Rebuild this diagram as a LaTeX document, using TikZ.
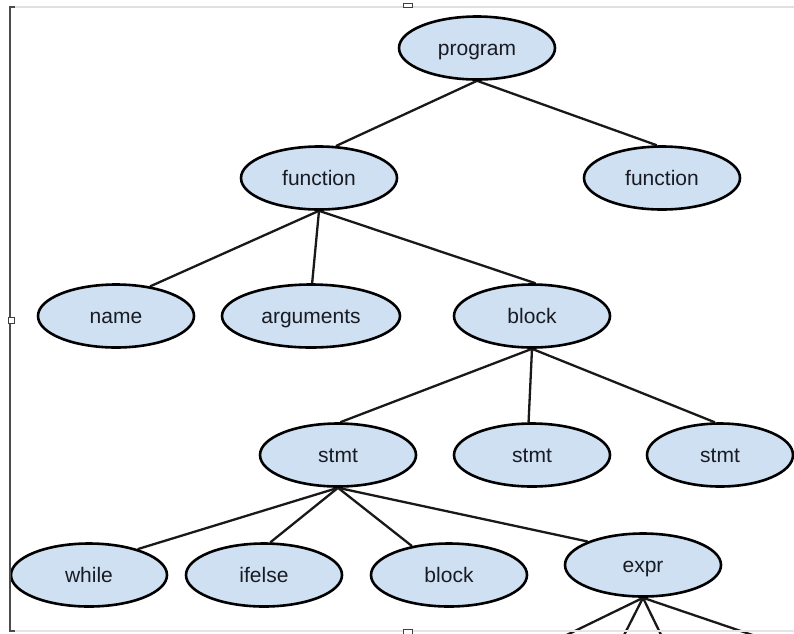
\documentclass[tikz,border=0pt]{standalone}
\usepackage{fontspec}
\setmainfont{Liberation Sans}
\usetikzlibrary{shapes.geometric,backgrounds}
\definecolor{nodefill}{RGB}{207,224,242}
\definecolor{txt}{RGB}{25,27,36}
\begin{document}
\begin{tikzpicture}[x=1pt,y=-1pt,
  tn/.style={ellipse, draw=black, line width=2.6pt, fill=nodefill,
    minimum width=156pt, minimum height=63pt, inner sep=0pt,
    text height=16pt, text depth=2pt,
    font=\fontsize{21}{24}\selectfont, text=txt},
  edge/.style={line width=2.3pt, draw=black!90},
  frameline/.style={draw=black!70, line width=1.3pt},
  handle/.style={draw=black!75, fill=white, line width=1pt}]
\useasboundingbox (0,0) rectangle (794,633);
\clip (0,0) rectangle (794,633);

% nodes
\node[tn] (program) at (477,48) {program};
\node[tn] (f1) at (319,178) {function};
\node[tn] (f2) at (662,178) {function};
\node[tn] (name) at (116,316) {name};
\node[tn, minimum width=178pt] (args) at (311,316) {arguments};
\node[tn] (blk1) at (532,316) {block};
\node[tn] (s1) at (338,455) {stmt};
\node[tn] (s2) at (532,455) {stmt};
\node[tn, minimum width=146pt] (s3) at (720,455) {stmt};
\node[tn] (while) at (89,575) {while};
\node[tn] (ifelse) at (264,575) {ifelse};
\node[tn] (blk2) at (449,575) {block};
\node[tn] (expr) at (643,565) {expr};

\coordinate (e1) at (546,645);
\coordinate (e2) at (619,645);
\coordinate (e3) at (666,645);
\coordinate (e4) at (782,645);

\begin{scope}[on background layer]
  \fill[white] (0,0) rectangle (794,633);
  \draw[edge] (program.south) -- (f1.62);
  \draw[edge] (program.south) -- (f2.99);
  \draw[edge] (f1.south) -- (name.41);
  \draw[edge] (f1.south) -- (args.88);
  \draw[edge] (f1.south) -- (blk1.84);
  \draw[edge] (blk1.south) -- (s1.86);
  \draw[edge] (blk1.south) -- (s2.96);
  \draw[edge] (blk1.south) -- (s3.99);
  \draw[edge] (s1.south) -- (while.28);
  \draw[edge] (s1.south) -- (ifelse.79);
  \draw[edge] (s1.south) -- (blk2.142);
  \draw[edge] (s1.south) -- (expr.157);
  \draw[edge] (expr.south) -- (e1);
  \draw[edge] (expr.south) -- (e2);
  \draw[edge] (expr.south) -- (e3);
  \draw[edge] (expr.south) -- (e4);
\end{scope}

% selection frame artifacts
\draw[black!12, line width=1.6pt] (12,7) -- (794,7);
\draw[black!10, line width=1.2pt] (12,631) -- (794,631);
\draw[frameline] (10,7) -- (10,631);
\draw[frameline] (9.4,7) -- (15,7);
\draw[frameline] (9.4,631) -- (15,631);
\draw[handle] (403,3) rectangle (412,7.5);
\draw[handle] (8,317) rectangle (14,323);
\draw[handle] (403,629) rectangle (412,634);
\end{tikzpicture}
\end{document}
